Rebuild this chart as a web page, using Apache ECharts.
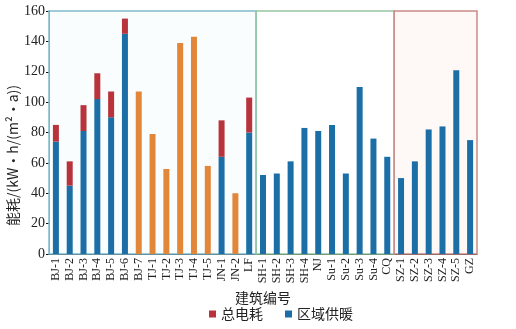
<!DOCTYPE html>
<html><head><meta charset="utf-8">
<script src="https://cdn.jsdelivr.net/npm/echarts@6/dist/echarts.min.js"></script>
<style>html,body{margin:0;padding:0;background:#fff}#c{width:516px;height:329px}</style>
</head><body><div id="c"></div>
<script>
const categories = ['BJ-1','BJ-2','BJ-3','BJ-4','BJ-5','BJ-6','BJ-7','TJ-1','TJ-2','TJ-3','TJ-4','TJ-5','JN-1','JN-2','LF',
  'SH-1','SH-2','SH-3','SH-4','NJ','Su-1','Su-2','Su-3','Su-4','CQ',
  'SZ-1','SZ-2','SZ-3','SZ-4','SZ-5','GZ'];
const heating = [74,45,81,102,90,145,'-','-','-','-','-','-',64,'-',80,
  52,53,61,83,81,85,53,110,76,64,
  50,61,82,84,121,75];
const electricity = [11,16,17,17,17,10,'-','-','-','-','-','-',24,'-',23,
  '-','-','-','-','-','-','-','-','-','-',
  '-','-','-','-','-','-'];
const other = ['-','-','-','-','-','-',107,79,56,139,143,58,'-',40,'-',
  '-','-','-','-','-','-','-','-','-','-',
  '-','-','-','-','-','-'];
const yTicks = [0,20,40,60,80,100,120,140,160];
const regionGroups = [['BJ-1','LF'],['SH-1','CQ'],['SZ-1','GZ']];

const regionStyles = [
  {color:'rgba(246,251,253,0.6)', borderColor:'#80bccb'},
  {color:'rgba(255,255,255,0)', borderColor:'#97c6a3'},
  {color:'rgba(253,246,242,0.7)', borderColor:'#c98a86'}
];
const serif = '"Liberation Serif","DejaVu Serif","Noto Sans CJK SC",serif';
const cjk = '"Noto Sans CJK SC","Liberation Serif",serif';

const areas = regionGroups.map((g,i)=>{
  const a = categories.indexOf(g[0]), b = categories.indexOf(g[1]) + 1;
  return [{xAxis:a, yAxis:yTicks[0], itemStyle:regionStyles[i]}, {xAxis:b, yAxis:yTicks[yTicks.length-1]}];
});

const chart = echarts.init(document.getElementById('c'));
chart.setOption({
  animation:false,
  grid:{left:49, right:39, top:11, bottom:75, containLabel:false, outerBoundsMode:'none'},
  legend:{data:['总电耗','区域供暖'], left:204, top:302, icon:'rect', itemWidth:7, itemHeight:7, itemGap:22,
    textStyle:{fontFamily:cjk, fontSize:14, color:'#222'}},
  xAxis:[{
    type:'category', data:categories,
    name:'建筑编号', nameLocation:'middle', nameGap:37, nameMoveOverlap:false,
    nameTextStyle:{fontFamily:cjk, fontSize:14, color:'#222'},
    axisLine:{lineStyle:{color:'#111', width:1}},
    axisTick:{inside:true, length:4, lineStyle:{color:'#111'}},
    axisLabel:{rotate:90, interval:0, fontFamily:serif, fontSize:12, color:'#222', margin:4}
  },{
    type:'value', min:0, max:categories.length, show:false
  }],
  yAxis:{
    type:'value', min:yTicks[0], max:yTicks[yTicks.length-1], interval:20,
    name:'能耗/(kW·h/(m²·a))', nameLocation:'middle', nameRotate:90, nameGap:29, nameMoveOverlap:false,
    nameTextStyle:{fontFamily:cjk, fontSize:14, color:'#222', padding:[0,46,0,0]},
    axisLine:{show:true, lineStyle:{color:'#111'}},
    axisTick:{show:true, inside:false, length:3, lineStyle:{color:'#111'}},
    splitLine:{show:false},
    axisLabel:{fontFamily:serif, fontSize:14, color:'#222', margin:4}
  },
  series:[
    {type:'line', xAxisIndex:1, data:[[0,0]], symbol:'none', lineStyle:{opacity:0}, silent:true, z:0,
      markArea:{silent:true, itemStyle:{borderWidth:1.5}, data:areas}},
    {name:'区域供暖', type:'bar', stack:'t', data:heating, barWidth:6, itemStyle:{color:'#1c6fa6'}, z:3},
    {name:'总电耗', type:'bar', stack:'t', data:electricity, barWidth:6, itemStyle:{color:'#b8333b'}, z:3},
    {name:'其他', type:'bar', stack:'t', data:other, barWidth:6, itemStyle:{color:'#e2873a'}, z:3}
  ]
});
</script></body></html>
